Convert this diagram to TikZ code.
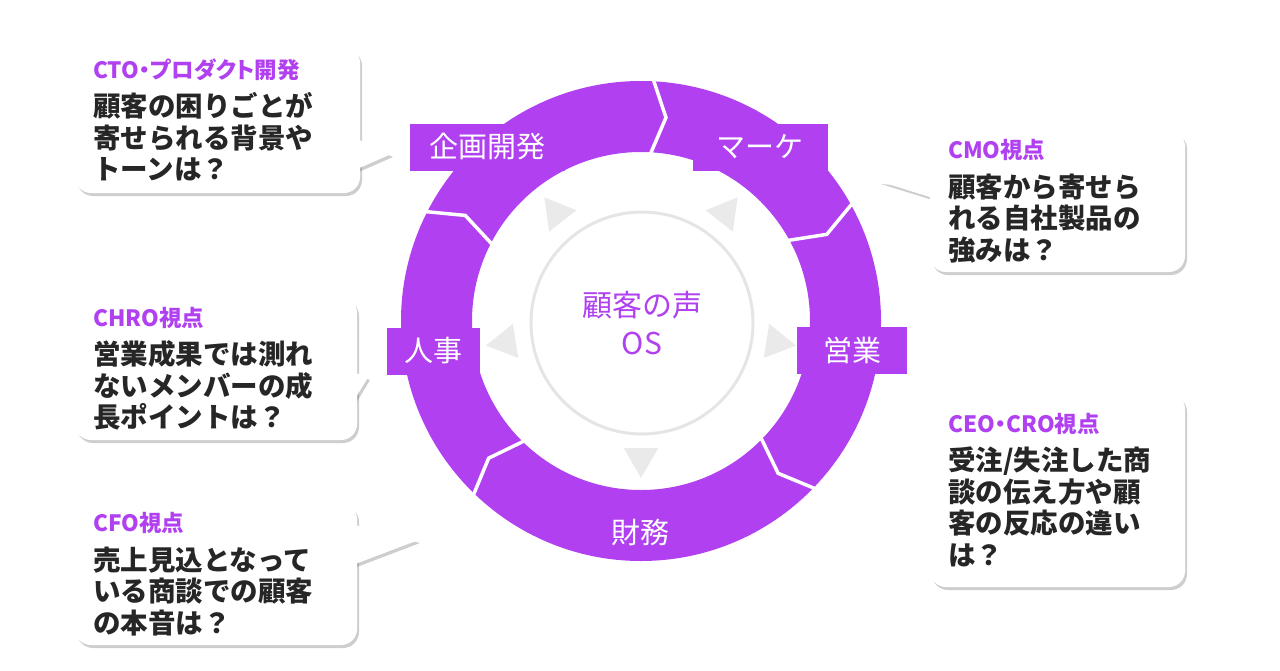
\documentclass[tikz,border=0pt]{standalone}
\usepackage{fontspec}
\setmainfont{Noto Sans CJK JP}
\usetikzlibrary{calc,shapes.geometric,shadows}
\definecolor{vocpurple}{RGB}{176,64,240}
\definecolor{vocink}{RGB}{38,38,38}
\definecolor{vocgray}{RGB}{234,234,234}
\newcommand{\rolehead}[1]{{\color{vocpurple}\fontsize{22.5}{24}\selectfont
    \addfontfeature{CharacterWidth=AlternateProportional}#1}}
\def\bubbletails{391/154/350/136/172, 368/377/347/370/412, 418/540/347/523/567,
                 879/181/940/186/200, 907/409/940/420/473}

\begin{document}
\begin{tikzpicture}[x=1pt, y=-1pt,
        ring/.style={fill=vocpurple, even odd rule},
        cut/.style={draw=white, line width=3.5pt},
        tag/.style={fill=vocpurple, text=white, inner sep=0pt, minimum height=47pt,
                    font=\fontsize{29}{32}\selectfont},
        tri/.style={regular polygon, regular polygon sides=3, fill=vocgray,
                    inner sep=0pt, minimum size=40pt},
        softshadow/.style={drop shadow={fill=black!55, opacity=0.35,
                    shadow xshift=2pt, shadow yshift=-3pt}},
        bubble/.style={softshadow, rectangle, rounded corners=16pt, fill=white, align=left,
                    inner xsep=18pt, inner ysep=0pt, text=vocink,
                    font=\bfseries\fontsize{27.5}{31.5}\selectfont},
        tail/.style={fill=white}]
    \useasboundingbox (0,0) rectangle (1280,670);

    % cycle ring
    \coordinate (c) at (641,321);
    \fill[ring] (c) circle (240) (c) circle (169);
    \foreach \a in {83,25,-48,-138,149}
        \draw[cut] ($(c)+({-(\a)-5}:252)$) -- ($(c)+({-(\a)}:205)$) -- ($(c)+({-(\a)-5}:158)$);
    \foreach \a/\n in {128/a,52/b,-9/c,189/d,-90/e}
        \node[tri, rotate=\a-90] (tri\n) at ($(c)+({-(\a)}:137)$) {};
    \node[circle, draw=black!10, line width=3pt, fill=white, minimum size=222pt, inner sep=0pt,
          text=vocpurple, align=center, font=\fontsize{30}{38}\selectfont] (core) at (642,323) {顧客の声\\OS};

    \node[tag, minimum width=155pt] (plan) at (487,147) {企画開発};
    \node[tag, minimum width=135pt] (mkt) at (760,147) {マーケ};
    \node[tag, minimum width=110pt] (sales) at (852,350) {営業};
    \node[tag, minimum width=93pt] (hr) at (433,351) {人事};
    \node[tag, fill=none] (fin) at (640,532) {財務};

    % speech bubbles
    \foreach \tx/\ty/\bx/\ya/\yb in \bubbletails
        \fill[tail, softshadow] (\tx,\ty) -- (\bx,\ya) -- (\bx,\yb) -- cycle;
    \node[bubble, text width=249pt, minimum height=146pt] (cto) at (217.5,120)
        {\rolehead{CTO・プロダクト開発}\\[7pt]顧客の困りごとが\\寄せられる背景や\\トーンは？};
    \node[bubble, text width=219pt, minimum height=142pt] (cmo) at (1057.5,201)
        {\rolehead{CMO視点}\\[7pt]顧客から寄せら\\れる自社製品の\\強みは？};
    \node[bubble, text width=246pt, minimum height=143pt] (chro) at (216,368.5)
        {\rolehead{CHRO視点}\\[7pt]営業成果では測れ\\ないメンバーの成\\長ポイントは？};
    \node[bubble, text width=246pt, minimum height=142pt] (cfo) at (216,574)
        {\rolehead{CFO視点}\\[7pt]売上見込となって\\いる商談での顧客\\の本音は？};
    \node[bubble, text width=219pt, minimum height=194pt] (ceo) at (1057.5,490)
        {\rolehead{CEO・CRO視点}\\[7pt]受注/失注した商\\談の伝え方や顧\\客の反応の違い\\は？};
    \foreach \tx/\ty/\bx/\ya/\yb in \bubbletails
        \fill[tail] (\tx,\ty) -- (\bx,\ya) -- (\bx,\yb) -- cycle;
\end{tikzpicture}
\end{document}
